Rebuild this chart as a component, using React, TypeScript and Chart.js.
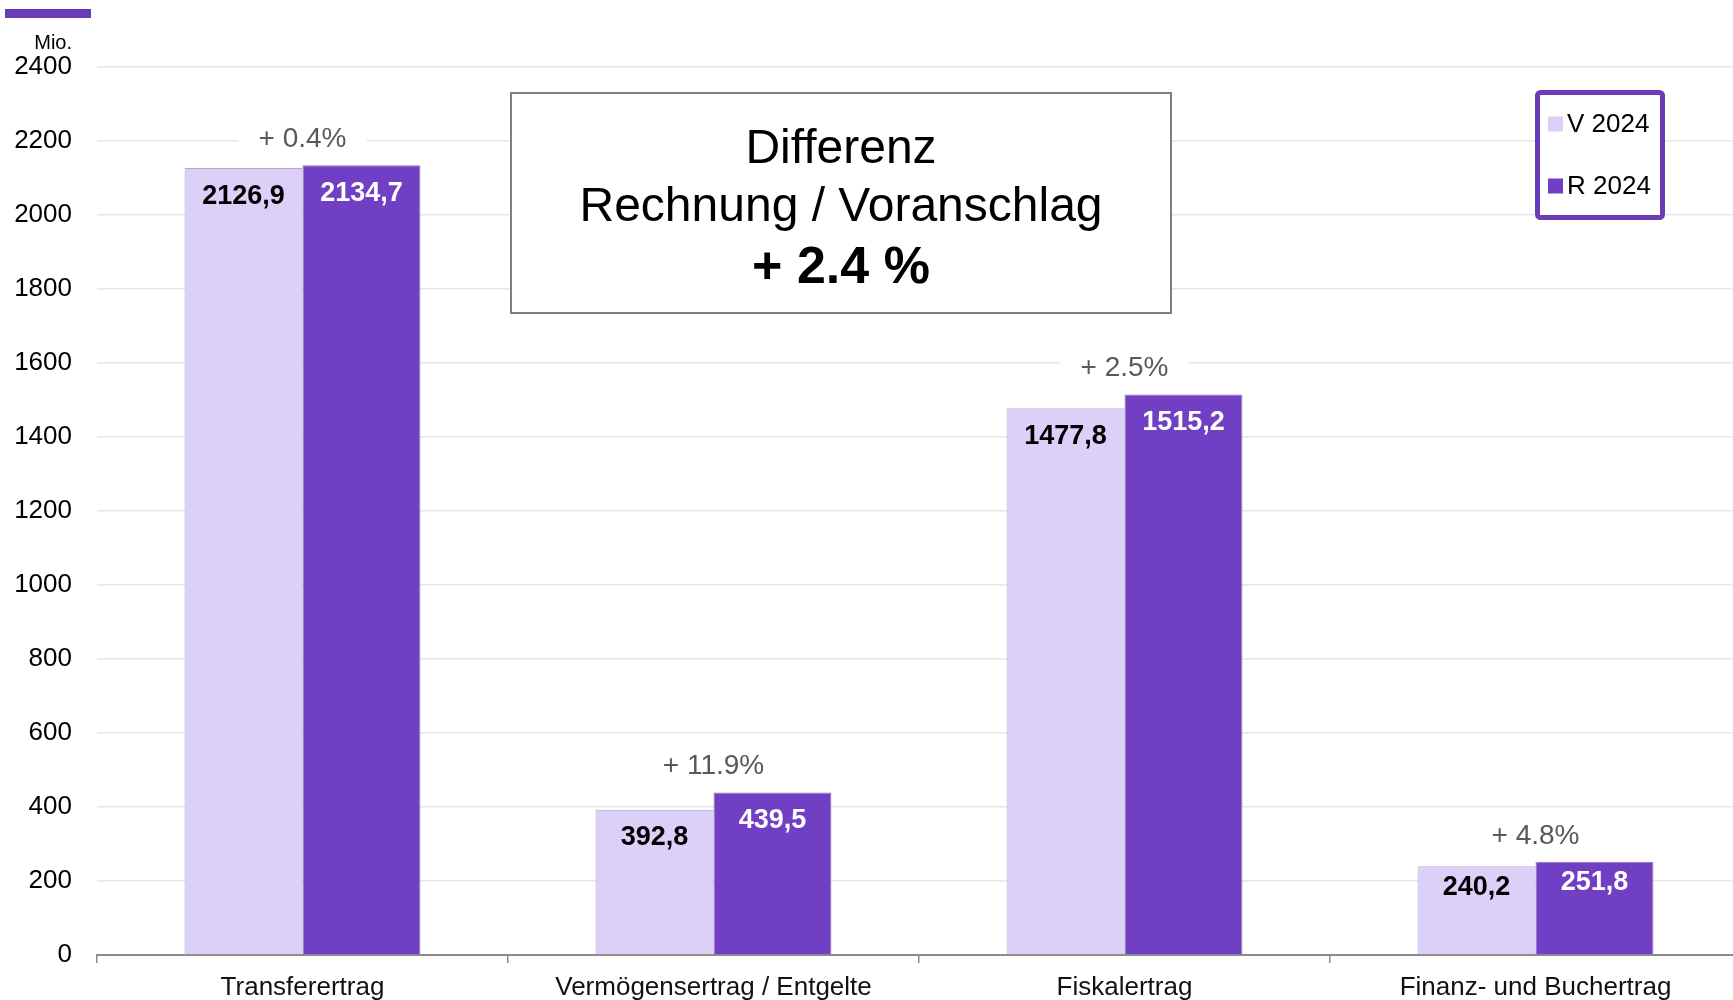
import { useEffect, useRef } from 'react';
import { Chart, registerables } from 'chart.js';

Chart.register(...registerables);

const categories = ['Transferertrag', 'Vermögensertrag / Entgelte', 'Fiskalertrag', 'Finanz- und Buchertrag'];
const seriesNames = ['V 2024', 'R 2024'];
const valuesV2024 = [2126.9, 392.8, 1477.8, 240.2];
const valuesR2024 = [2134.7, 439.5, 1515.2, 251.8];
const diffLabels = ['+ 0.4%', '+ 11.9%', '+ 2.5%', '+ 4.8%'];
const boxLines = ['Differenz', 'Rechnung / Voranschlag', '+ 2.4 %'];
const unitLabel = 'Mio.';
const yMin = 0;
const yMax = 2400;
const yStep = 200;

const FONT = '"Liberation Sans", Arial, sans-serif';
const LIGHT = '#dccff8';
const DARK = '#703fc4';
const ACCENT = '#6a3cb8';

const overlay = {
  id: 'overlay',
  afterDatasetsDraw(chart: any) {
    const ctx = chart.ctx;
    ctx.save();
    ctx.textAlign = 'center';
    ctx.textBaseline = 'middle';
    chart.data.datasets.forEach((ds: any, di: number) => {
      const meta = chart.getDatasetMeta(di);
      meta.data.forEach((bar: any, i: number) => {
        const v = ds.data[i] as number;
        const off = v < 300 ? 21 : 28;
        ctx.font = `bold 27px ${FONT}`;
        ctx.fillStyle = di === 0 ? '#000000' : '#ffffff';
        ctx.fillText(v.toFixed(1).replace('.', ','), bar.x, bar.y + off);
      });
    });
    const m0 = chart.getDatasetMeta(0);
    const m1 = chart.getDatasetMeta(1);
    diffLabels.forEach((t, i) => {
      const x = (m0.data[i].x + m1.data[i].x) / 2;
      const y = Math.min(m0.data[i].y, m1.data[i].y) - 26;
      ctx.font = `28px ${FONT}`;
      const w = ctx.measureText(t).width;
      ctx.fillStyle = '#ffffff';
      ctx.fillRect(x - w / 2 - 20, y - 16, w + 40, 32);
      ctx.fillStyle = '#595959';
      ctx.fillText(t, x, y);
    });
    ctx.restore();
  },
  afterDraw(chart: any) {
    const ctx = chart.ctx;
    ctx.save();
    // top accent bar
    ctx.fillStyle = ACCENT;
    ctx.fillRect(5, 9, 86, 9);
    // unit
    ctx.font = `20px ${FONT}`;
    ctx.fillStyle = '#000';
    ctx.textAlign = 'right';
    ctx.textBaseline = 'middle';
    ctx.fillText(unitLabel, 72, 43);
    // text box
    ctx.fillStyle = '#ffffff';
    ctx.fillRect(511, 93, 660, 220);
    ctx.strokeStyle = '#7f7f7f';
    ctx.lineWidth = 2;
    ctx.strokeRect(511, 93, 660, 220);
    ctx.fillStyle = '#000';
    ctx.textAlign = 'center';
    ctx.font = `48px ${FONT}`;
    ctx.fillText(boxLines[0], 841, 150);
    ctx.fillText(boxLines[1], 841, 208);
    ctx.font = `bold 52px ${FONT}`;
    ctx.fillText(boxLines[2], 841, 269);
    // legend
    ctx.fillStyle = '#ffffff';
    ctx.fillRect(1537, 92, 126, 126);
    ctx.strokeStyle = ACCENT;
    ctx.lineWidth = 5;
    ctx.beginPath();
    (ctx as any).roundRect(1537.5, 92.5, 125, 125, 3);
    ctx.stroke();
    const ys = [124, 186];
    chart.data.datasets.forEach((ds: any, i: number) => {
      ctx.fillStyle = ds.backgroundColor;
      ctx.fillRect(1548, ys[i] - 7.5, 15, 15);
      ctx.fillStyle = '#000';
      ctx.textAlign = 'left';
      ctx.font = `26px ${FONT}`;
      ctx.fillText(ds.label, 1567, ys[i] + 1);
    });
    ctx.restore();
  },
};

export default function App() {
  const ref = useRef<HTMLCanvasElement | null>(null);
  useEffect(() => {
    if (!ref.current) return;
    const chart = new Chart(ref.current, {
      type: 'bar',
      data: {
        labels: categories,
        datasets: [
          {
            label: seriesNames[0],
            data: valuesV2024,
            backgroundColor: LIGHT,
            borderColor: '#b4a6d2',
            borderWidth: 1,
            categoryPercentage: 0.574,
            barPercentage: 1,
          },
          {
            label: seriesNames[1],
            data: valuesR2024,
            backgroundColor: DARK,
            borderColor: '#8d7ab0',
            borderWidth: 1,
            categoryPercentage: 0.574,
            barPercentage: 1,
          },
        ],
      },
      options: {
        responsive: false,
        animation: false,
        layout: { padding: { left: 0, right: 19, top: 67, bottom: 0 } },
        plugins: { legend: { display: false }, tooltip: { enabled: false } },
        scales: {
          x: {
            grid: { offset: true, drawOnChartArea: false, tickLength: 8, color: '#8c8c8c', lineWidth: 1.5 },
            border: { color: '#8c8c8c', width: 2 },
            ticks: { font: { size: 26, family: FONT }, color: '#111111', padding: 9, maxRotation: 0 },
            afterFit: (s: any) => { s.height = 45; },
          },
          y: {
            min: yMin,
            max: yMax,
            ticks: { stepSize: yStep, padding: 25, font: { size: 26, family: FONT }, color: '#000000', callback: (v: any) => String(v) },
            grid: { drawTicks: false, color: '#e6e6e6', lineWidth: 1.5 },
            border: { display: false },
            afterFit: (s: any) => { s.width = 97; },
          },
        },
      },
      plugins: [overlay],
    } as any);
    return () => chart.destroy();
  }, []);
  return (
    <div style={{ position: 'fixed', left: 0, top: 0, width: 1733, height: 1000, overflow: 'hidden', background: '#fff' }}>
      <canvas ref={ref} width={1760} height={1000} style={{ display: 'block' }} />
    </div>
  );
}
